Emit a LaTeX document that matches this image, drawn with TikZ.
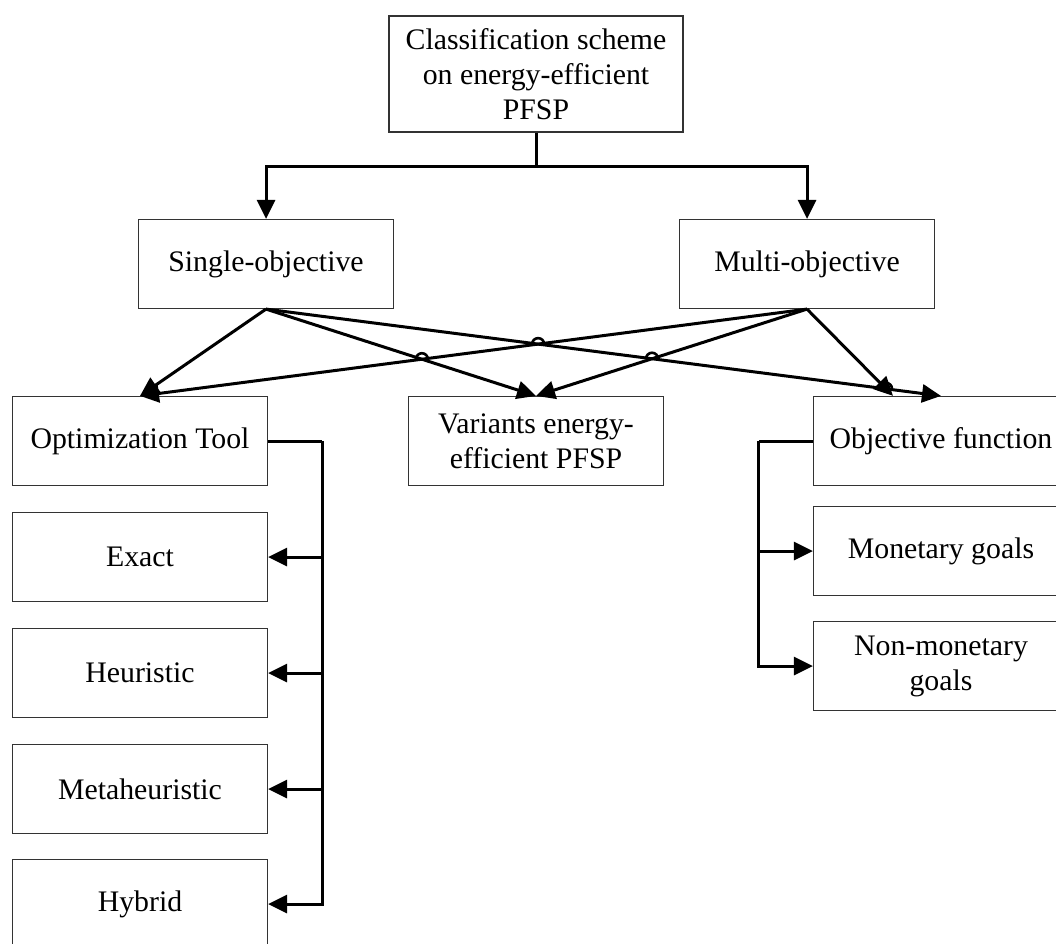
\documentclass[tikz,border=0pt]{standalone}
\usepackage{fontspec}
\setmainfont{Liberation Serif}
\usetikzlibrary{arrows.meta,intersections}
\tikzset{
	blk/.style={draw=black!80, line width=1.2pt, minimum width=255pt, minimum height=89pt, inner sep=0pt, align=center, font=\fontsize{29.8}{35}\selectfont},
	conn/.style={line width=3pt, -{Triangle[length=19pt,width=18pt]}},
	link/.style={line width=3pt},
	hop/.style={line width=2.6pt},
}
\begin{document}
\begin{tikzpicture}
		[x=1pt, y=-1pt]
		\useasboundingbox (0,0) rectangle (1056,943);
		\node[blk, minimum width=294pt, minimum height=116pt] (top) at (536,74) {Classification scheme\\on energy-efficient\\PFSP};
		\node[blk] (single) at (266,264) {Single-objective};
		\node[blk] (multi) at (807,264) {Multi-objective};
		\node[blk] (opt) at (140,441) {Optimization Tool};
		\node[blk] (var) at (536,441) {Variants energy-\\efficient PFSP};
		\node[blk] (obj) at (941,441) {Objective function};
		\node[blk] (exact) at (140,557) {Exact};
		\node[blk] (heur) at (140,673) {Heuristic};
		\node[blk] (meta) at (140,789) {Metaheuristic};
		\node[blk] (hybrid) at (140,904) {Hybrid};
		\node[blk] (mon) at (941,551) {Monetary goals};
		\node[blk] (nonmon) at (941,666) {Non-monetary\\goals};
		\coordinate (split) at (top.south |- 0,166);
		\coordinate (lbus) at ([xshift=54pt]opt.east);
		\coordinate (rbus) at ([xshift=-54pt]obj.west);
		\coordinate (objin) at ([xshift=-48pt]obj.north);
		\draw[link] (top.south) -- (split);
		\draw[conn] (split) -| (single.north);
		\draw[conn] (split) -| (multi.north);
		\draw[link] (opt.east) -- (lbus);
		\foreach \n in {exact,heur,meta,hybrid}
			\draw[conn] (lbus) |- (\n.east);
		\draw[link] (obj.west) -- (rbus);
		\foreach \n in {mon,nonmon}
			\draw[conn] (rbus) |- (\n.west);
		\draw[conn] (single.south) -- (opt.north);
		\draw[conn] (single.south) -- (var.north);
		\draw[conn] (single.south) -- (obj.north);
		\draw[conn] (multi.south) -- (opt.north);
		\draw[conn] (multi.south) -- (var.north);
		\draw[conn] (multi.south) -- (objin);
		\path[name path=sv] (single.south) -- (var.north);
		\path[name path=so] (single.south) -- (obj.north);
		\path[name path=mo] (multi.south) -- (opt.north);
		\path[name path=mv] (multi.south) -- (var.north);
		\path[name path=mf] (multi.south) -- (objin);
		\path[name intersections={of=sv and mo, by=h1}];
		\path[name intersections={of=so and mo, by=h2}];
		\path[name intersections={of=so and mv, by=h3}];
		\path[name intersections={of=so and mf, by=h4}];
		\foreach \h in {h1,h2,h3,h4}
			\draw[hop] (\h) ++(-6,0) arc (180:360:6);
	\end{tikzpicture}
\end{document}
